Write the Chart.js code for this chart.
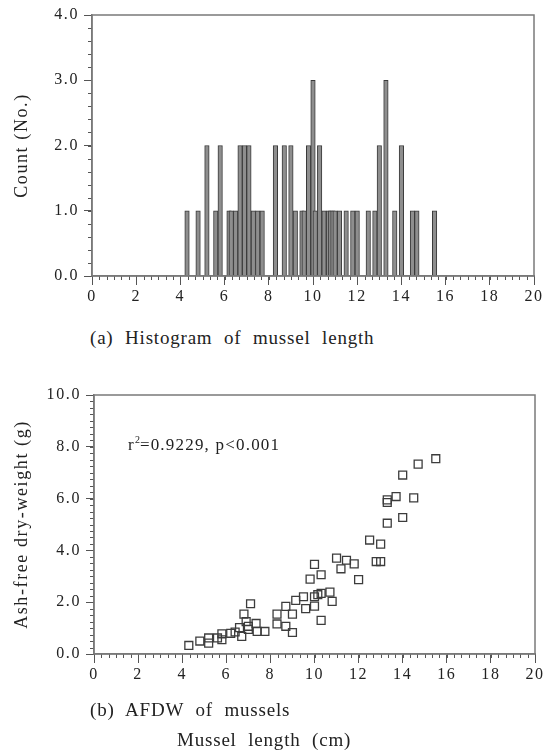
<!DOCTYPE html>
<html>
<head>
<meta charset="utf-8">
<script src="https://cdn.jsdelivr.net/npm/chart.js@4"></script>
<style>
  body { margin: 0; background: #fff; }
  #page { position: relative; width: 545px; height: 756px; background: #fff; }
  canvas { position: absolute; left: 0; }
  .cap { position: absolute; font-family: "Liberation Serif", serif; font-size: 19px; line-height: 19px;
         color: #222; letter-spacing: 0.8px; word-spacing: 6px; white-space: nowrap; }
  .note { position: absolute; font-family: "Liberation Serif", serif; font-size: 17px; line-height: 17px;
          color: #222; letter-spacing: 1.2px; white-space: nowrap; }
  .note sup { font-size: 10px; vertical-align: 7px; line-height: 0; letter-spacing: 0; }
</style>
</head>
<body>
<div id="page">
  <canvas id="hist" width="545" height="320" style="top:0"></canvas>
  <canvas id="afdw" width="545" height="320" style="top:380px"></canvas>
  <div class="cap" style="left:90px; top:328px">(a) Histogram of mussel length</div>
  <div class="note" style="left:128px; top:436px">r<sup>2</sup>=0.9229, p&lt;0.001</div>
  <div class="cap" style="left:90px; top:700px">(b) AFDW of mussels</div>
  <div class="cap" style="left:177px; top:730px">Mussel length (cm)</div>
</div>
<script>
// histogram of mussel length (cm) -> count
var histLength = [4.3, 4.8, 5.2, 5.6, 5.8, 6.2, 6.3, 6.5, 6.7, 6.9, 7.1, 7.3, 7.5, 7.7,
	8.3, 8.7, 9.0, 9.2, 9.5, 9.6, 9.8, 10.0, 10.1, 10.3, 10.5, 10.7, 10.8, 10.9, 11.0,
	11.2, 11.5, 11.8, 12.0, 12.5, 12.8, 13.0, 13.3, 13.7, 14.0, 14.5, 14.7, 15.5];
var histCount = [1, 1, 2, 1, 2, 1, 1, 1, 2, 2, 2, 1, 1, 1,
	2, 2, 2, 1, 1, 1, 2, 3, 1, 2, 1, 1, 1, 1, 1,
	1, 1, 1, 1, 1, 1, 2, 3, 1, 2, 1, 1, 1];

// AFDW scatter: length (cm) and weight (g)
var musselLength = [4.3, 4.8, 5.2, 5.2, 5.6, 5.8, 5.8, 6.2, 6.4, 6.6, 6.7, 6.8, 6.9, 7.0,
	7.0, 7.1, 7.35, 7.4, 7.75, 8.3, 8.3, 8.7, 8.7, 9.0, 9.0, 9.15, 9.5, 9.6, 9.8, 10.0,
	10.0, 10.0, 10.15, 10.3, 10.3, 10.3, 10.7, 10.8, 11.0, 11.2, 11.45, 11.8, 12.0, 12.5,
	12.8, 13.0, 13.0, 13.3, 13.3, 13.3, 13.7, 14.0, 14.0, 14.5, 14.7, 15.5];
var musselAfdw = [0.33, 0.50, 0.62, 0.42, 0.62, 0.55, 0.78, 0.80, 0.85, 1.02, 0.68, 1.54, 1.25, 1.07,
	0.95, 1.94, 1.18, 0.87, 0.87, 1.54, 1.16, 1.84, 1.07, 1.54, 0.83, 2.07, 2.21, 1.75, 2.89, 3.46,
	2.21, 1.85, 2.29, 3.06, 2.34, 1.30, 2.39, 2.03, 3.70, 3.29, 3.62, 3.48, 2.87, 4.40,
	3.57, 3.57, 4.24, 5.05, 5.85, 5.95, 6.08, 5.27, 6.91, 6.03, 7.33, 7.54];

var lengthTicks = [0, 2, 4, 6, 8, 10, 12, 14, 16, 18, 20];

Chart.defaults.font.family = '"Liberation Serif", serif';
Chart.defaults.font.size = 16;
Chart.defaults.color = '#222';

// frame, minor ticks and wider glyph spacing like the figure
const figureStyle = {
	id: 'figureStyle',
	beforeDraw(chart) {
		chart.ctx.letterSpacing = '1.6px';
	},
	afterDraw(chart, args, opts) {
		const ctx = chart.ctx, x = chart.scales.x, y = chart.scales.y, a = chart.chartArea;
		ctx.save();
		ctx.strokeStyle = '#555';
		ctx.lineWidth = 1;
		ctx.beginPath();
		for (let i = 0; i * opts.xStep <= x.max + 1e-9; i++) {
			const px = Math.round(x.getPixelForValue(i * opts.xStep)) + 0.5;
			ctx.moveTo(px, a.bottom);
			ctx.lineTo(px, a.bottom + 4);
		}
		for (let i = 0; i * opts.yStep <= y.max + 1e-9; i++) {
			const py = Math.round(y.getPixelForValue(i * opts.yStep)) + 0.5;
			ctx.moveTo(a.left, py);
			ctx.lineTo(a.left - 4, py);
		}
		ctx.stroke();
		ctx.strokeStyle = '#7a7a7a';
		ctx.lineWidth = 1.5;
		ctx.strokeRect(a.left, a.top, a.right - a.left, a.bottom - a.top);
		ctx.restore();
	}
};

function axes(yMax, yStep, yTitle, yWidth, xHeight) {
	return {
		x: {
			type: 'linear', min: 0, max: 20, offset: false,
			afterFit: function (s) { s.height = xHeight; },
			afterBuildTicks: function (s) { s.ticks = lengthTicks.map(v => ({ value: v })); },
			border: { color: '#7a7a7a', width: 1.5 },
			grid: { drawOnChartArea: false, offset: false, tickLength: 9, tickColor: '#555', tickWidth: 1 },
			ticks: { padding: 2, maxRotation: 0, callback: v => String(v) }
		},
		y: {
			min: 0, max: yMax,
			afterFit: function (s) { s.width = yWidth; },
			border: { color: '#7a7a7a', width: 1.5 },
			grid: { drawOnChartArea: false, tickLength: 8, tickColor: '#555', tickWidth: 1 },
			ticks: { stepSize: yStep, padding: 5, callback: v => v.toFixed(1) },
			title: { display: true, text: yTitle, font: { size: 18 }, padding: { top: 11, bottom: 0 } }
		}
	};
}

function displayHistogram() {
	var ctx = document.getElementById('hist').getContext('2d');
	new Chart(ctx, {
		type: 'bar',
		data: {
			datasets: [{
				data: histLength.map((l, i) => ({ x: l, y: histCount[i] })),
				backgroundColor: '#8e8e8e',
				borderColor: '#3a3a3a',
				borderWidth: 1,
				borderSkipped: 'start',
				barThickness: 4.5,
				grouped: false
			}]
		},
		options: {
			responsive: false,
			animation: false,
			layout: { padding: { top: 15, right: 11, left: 0, bottom: 0 } },
			plugins: { legend: { display: false }, tooltip: { enabled: false }, figureStyle: { xStep: 1 / 3, yStep: 0.2 } },
			scales: axes(4, 1, 'Count (No.)', 92, 44)
		},
		plugins: [figureStyle]
	});
}

function displayAfdw() {
	var ctx = document.getElementById('afdw').getContext('2d');
	new Chart(ctx, {
		type: 'scatter',
		data: {
			datasets: [{
				data: musselLength.map((l, i) => ({ x: l, y: musselAfdw[i] })),
				pointStyle: 'rect',
				pointRadius: 5.6,
				borderColor: '#3c3c3c',
				borderWidth: 1.3,
				backgroundColor: 'rgba(255,255,255,0)'
			}]
		},
		options: {
			responsive: false,
			animation: false,
			layout: { padding: { top: 15, right: 10, left: 0, bottom: 0 } },
			plugins: { legend: { display: false }, tooltip: { enabled: false }, figureStyle: { xStep: 1 / 3, yStep: 0.25 } },
			scales: axes(10, 2, 'Ash-free dry-weight (g)', 94, 46)
		},
		plugins: [figureStyle]
	});
}

displayHistogram();
displayAfdw();
</script>
</body>
</html>
